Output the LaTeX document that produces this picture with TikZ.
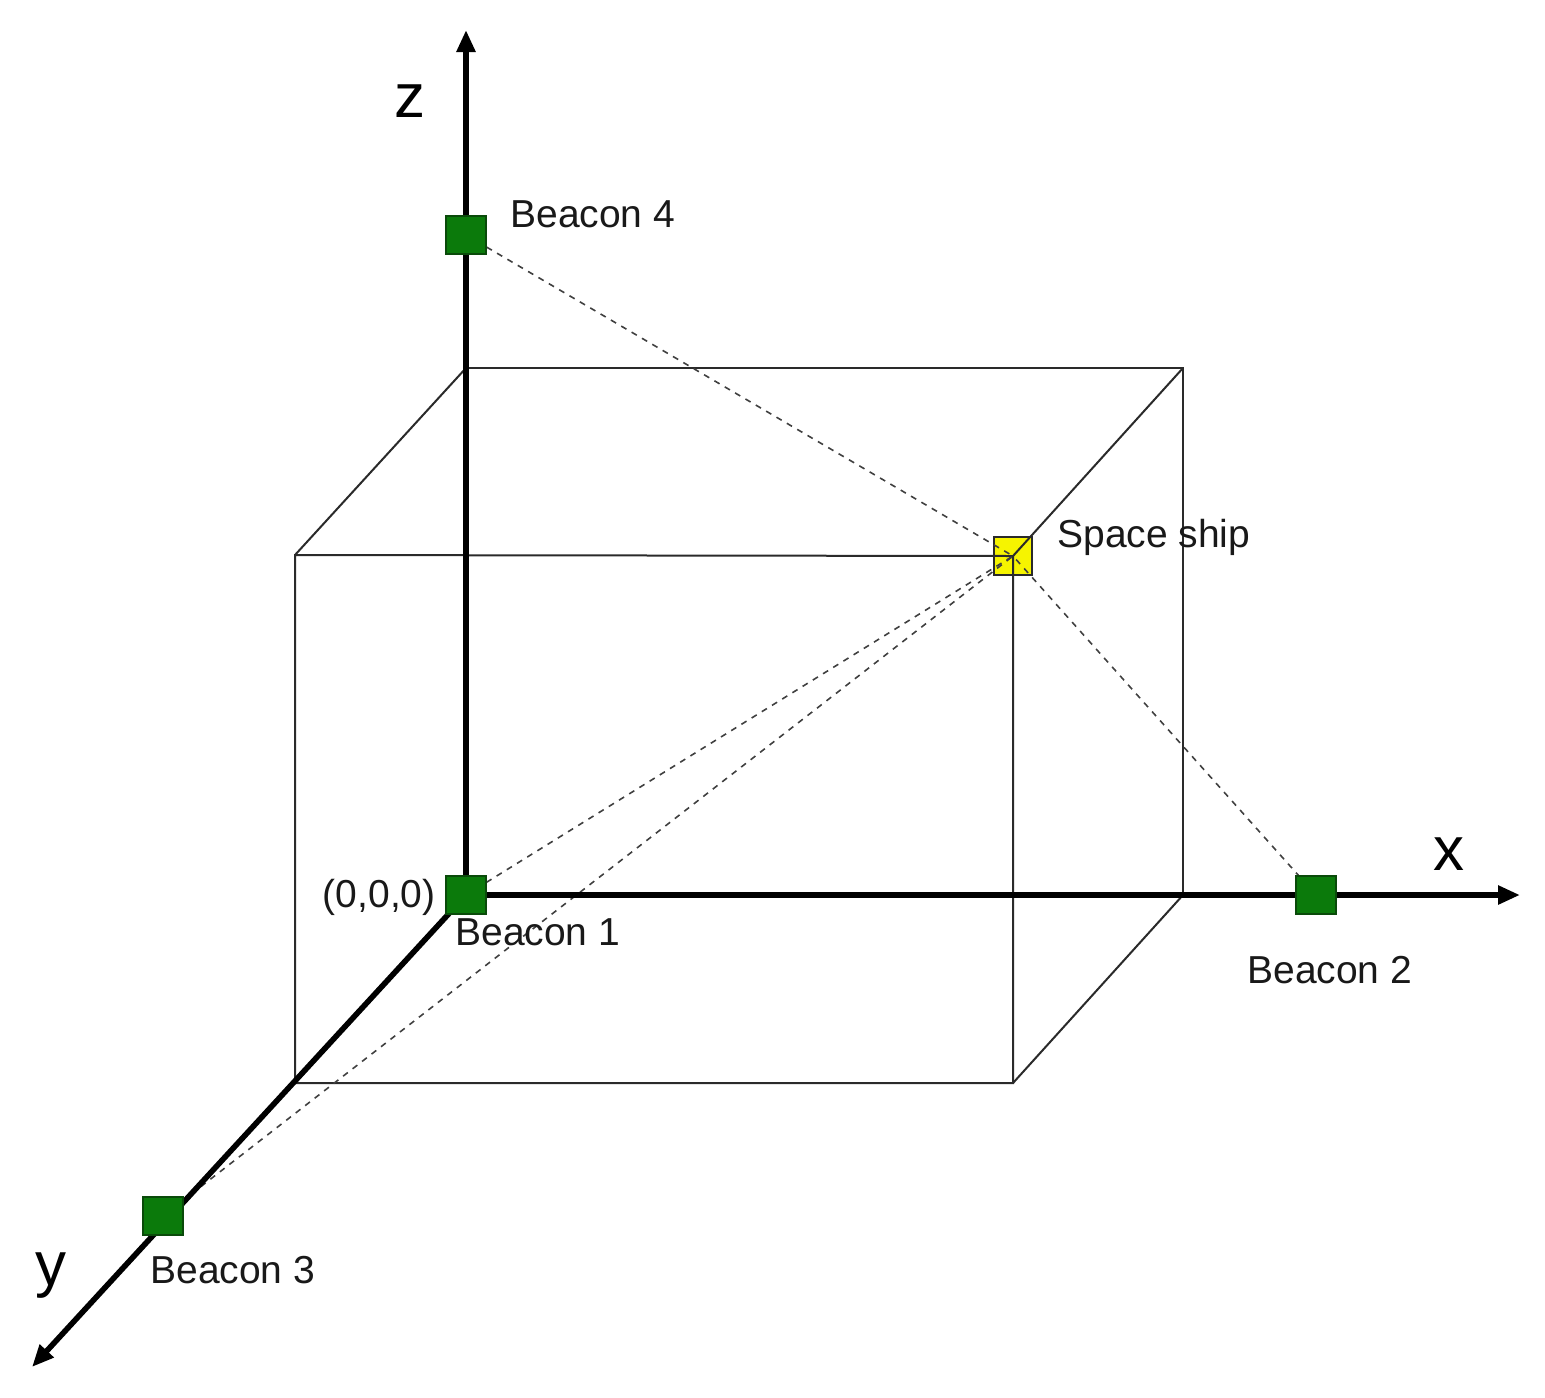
\documentclass[tikz,border=0pt]{standalone}
\usepackage{fontspec}
\setmainfont{Liberation Sans}
\usetikzlibrary{arrows.meta}
\definecolor{beacongreen}{HTML}{0B7A0B}
\definecolor{beaconedge}{HTML}{0A4A0A}
\definecolor{shipyellow}{HTML}{F6F400}
\definecolor{edgegray}{HTML}{2A2A2A}
\definecolor{dashgray}{HTML}{404040}
\tikzset{
  beacon/.style={rectangle, fill=beacongreen, draw=beaconedge, line width=0.6pt, minimum width=20pt, minimum height=19pt, inner sep=0pt},
  shipbox/.style={rectangle, fill=shipyellow, draw=edgegray, line width=0.7pt, minimum size=19pt, inner sep=0pt},
  boxedge/.style={draw=edgegray, line width=1pt},
  rangeline/.style={draw=dashgray, line width=0.8pt, dash pattern=on 3pt off 3pt},
  axisline/.style={draw=black, line width=2.8pt, -{Triangle[length=11pt,width=9pt]}},
  lbl/.style={inner sep=0pt, font=\fontsize{19.5}{23}\selectfont, text=black!90},
  axlbl/.style={inner sep=0pt, font=\fontsize{31}{36}\selectfont, anchor=base}
}
\begin{document}
\begin{tikzpicture}[x=0.5pt,y=-0.5pt]
\useasboundingbox (0,0) rectangle (1545,1397);
% axis end points
\coordinate (O) at (466,895);
\coordinate (zend) at (466,30);
\coordinate (xend) at (1520,895);
\coordinate (yend) at (32,1367);
% box corners
\coordinate (A) at (466,368);
\coordinate (B) at (1183,368);
\coordinate (C) at (1183,895);
\coordinate (E) at (295,555);
\coordinate (G) at (1013,1083);
\coordinate (H) at (295,1083);
% space ship
\node[shipbox] (ship) at (1013,556) {};
% box
\draw[boxedge] (A) -- (B) -- (C) -- (O) -- cycle;
\draw[boxedge] (E) -- (ship.center) -- (G) -- (H) -- cycle;
\draw[boxedge] (A) -- (E);
\draw[boxedge] (B) -- (ship.center);
\draw[boxedge] (C) -- (G);
\draw[boxedge] (O) -- (H);
% beacons (positions)
\coordinate (p1) at (466,895);
\coordinate (p2) at (1316,895);
\coordinate (p3) at (163,1216);
\coordinate (p4) at (466,235);
% range lines
\draw[rangeline] (p4) -- (ship.center);
\draw[rangeline] (p2) -- (ship.center);
\draw[rangeline] (p1) -- (ship.center);
\draw[rangeline] (p3) -- (ship.center);
% axes
\draw[axisline] (O) -- (zend);
\draw[axisline] (O) -- (xend);
\draw[axisline] (O) -- (yend);
% beacon squares
\node[beacon] (b1) at (p1) {};
\node[beacon] (b2) at (p2) {};
\node[beacon] (b3) at (p3) {};
\node[beacon] (b4) at (p4) {};
% labels
\node[lbl, anchor=base west] (l4) at (510,227) {Beacon 4};
\node[lbl, anchor=base west] (l1) at (455,945) {Beacon 1};
\node[lbl, anchor=base west] (l2) at (1247,983) {Beacon 2};
\node[lbl, anchor=base west] (l3) at (150,1283) {Beacon 3};
\node[lbl, anchor=base west] (ls) at (1057,547) {Space ship};
\node[lbl, anchor=base east] (lo) at (436,907) {(0,0,0)};
\node[axlbl] (lx) at (1449,870) {x};
\node[axlbl] (lz) at (410,117) {z};
\node[axlbl] (ly) at (51,1285) {y};
\end{tikzpicture}
\end{document}
